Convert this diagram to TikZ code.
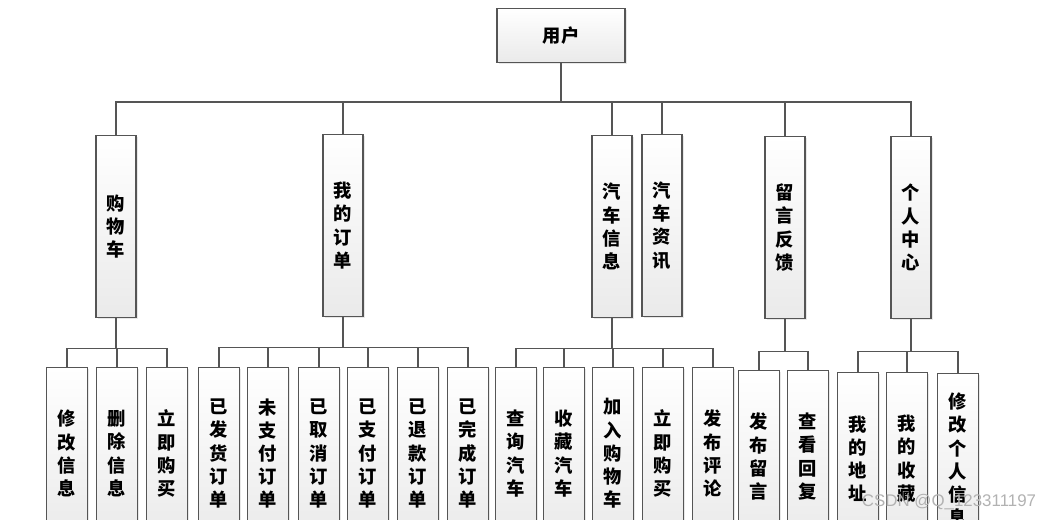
\documentclass[tikz,border=0pt]{standalone}
\usepackage{fontspec}
\newfontfamily\cjkfont{Noto Sans CJK SC}
\newfontfamily\markfont{Liberation Sans}
\usetikzlibrary{shadows,positioning}
\definecolor{edge}{RGB}{85,85,85}
\definecolor{boxtop}{RGB}{255,255,255}
\definecolor{boxbot}{RGB}{234,234,234}

\begin{document}
\begin{tikzpicture}[x=0.025cm,y=-0.025cm,
	box/.style={draw=edge,line width=0.8pt,top color=boxtop,bottom color=boxbot,
		drop shadow={opacity=0.18,shadow xshift=1.2pt,shadow yshift=-1.2pt},
		align=center,inner sep=0pt,font=\cjkfont\bfseries\fontsize{13}{16.5}\selectfont},
	topbox/.style={box,minimum width=3.2cm,minimum height=1.35cm,anchor=north},
	midbox/.style={box,minimum width=1cm,minimum height=4.55cm,anchor=north},
	leafbox/.style={box,minimum width=1.025cm,minimum height=4.3cm,anchor=north},
	link/.style={draw=edge,line width=0.9pt}]
			\clip (0,0) rectangle (1047,520);
			% root
			\node[topbox] (user) at (561,8) {用户};
			% second level
			\node[midbox] (cart) at (116,135) {购\\物\\车};
			\node[midbox] (order) at (343,134) {我\\的\\订\\单};
			\node[midbox] (carinfo) at (612,135) {汽\\车\\信\\息};
			\node[midbox] (carnews) at (662,134) {汽\\车\\资\\讯};
			\node[midbox] (msg) at (785,136) {留\\言\\反\\馈};
			\node[midbox] (home) at (911,136) {个\\人\\中\\心};
			\coordinate (bus) at (561,102);
			\foreach \c in {cart,order,carinfo,carnews,msg,home}
				\draw[link] (user.south) -- (user.south |- bus) -| (\c.north);
			% shopping cart
			\node[leafbox] (cart1) at (67,367) {修\\改\\信\\息};
			\node[leafbox] (cart2) at (117,367) {删\\除\\信\\息};
			\node[leafbox] (cart3) at (167,367) {立\\即\\购\\买};
			\foreach \c in {cart1,cart2,cart3}
				\draw[link] (cart.south) -- ++(0,30) -| (\c.north);
			% orders
			\node[leafbox] (order1) at (219,367) {已\\发\\货\\订\\单};
			\node[leafbox] (order2) at (268,367) {未\\支\\付\\订\\单};
			\node[leafbox] (order3) at (319,367) {已\\取\\消\\订\\单};
			\node[leafbox] (order4) at (368,367) {已\\支\\付\\订\\单};
			\node[leafbox] (order5) at (418,367) {已\\退\\款\\订\\单};
			\node[leafbox] (order6) at (468,367) {已\\完\\成\\订\\单};
			\foreach \c in {order1,order2,order3,order4,order5,order6}
				\draw[link] (order.south) -- ++(0,30) -| (\c.north);
			% car info
			\node[leafbox] (info1) at (516,367) {查\\询\\汽\\车};
			\node[leafbox] (info2) at (564,367) {收\\藏\\汽\\车};
			\node[leafbox] (info3) at (613,367) {加\\入\\购\\物\\车};
			\node[leafbox] (info4) at (663,367) {立\\即\\购\\买};
			\node[leafbox] (info5) at (713,367) {发\\布\\评\\论};
			\foreach \c in {info1,info2,info3,info4,info5}
				\draw[link] (carinfo.south) -- ++(0,30) -| (\c.north);
			% messages
			\node[leafbox] (msg1) at (759,370) {发\\布\\留\\言};
			\node[leafbox] (msg2) at (808,370) {查\\看\\回\\复};
			\foreach \c in {msg1,msg2}
				\draw[link] (msg.south) -- ++(0,32) -| (\c.north);
			% personal center
			\node[leafbox] (home1) at (858,372) {我\\的\\地\\址};
			\node[leafbox] (home2) at (907,372) {我\\的\\收\\藏};
			\node[leafbox] (home3) at (958,373) {修\\改\\个\\人\\信\\息};
			\foreach \c in {home1,home2,home3}
				\draw[link] (home.south) -- ++(0,32) -| (\c.north);
			\node[font=\markfont\fontsize{12}{14}\selectfont,text=black!30,anchor=west] (mark) at (857,502) {CSDN @Q\_123311197};
\end{tikzpicture}
\end{document}
